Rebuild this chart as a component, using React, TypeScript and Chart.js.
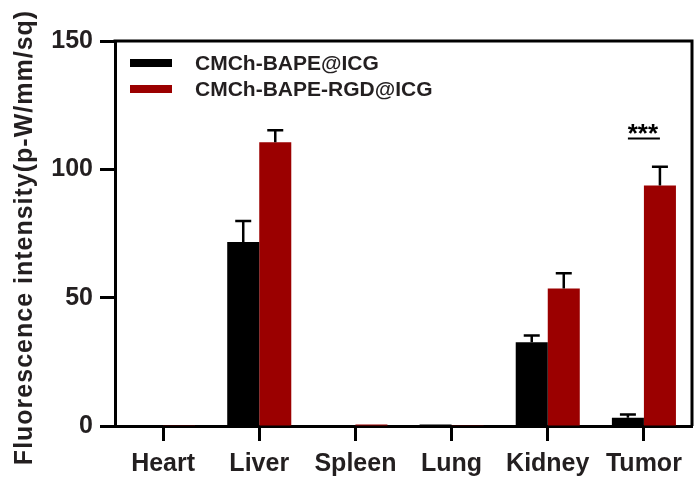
import React, { useEffect, useRef } from "react";
import { Chart, registerables } from "chart.js";

Chart.register(...registerables);

const categories = ["Heart", "Liver", "Spleen", "Lung", "Kidney", "Tumor"];
const seriesNames = ["CMCh-BAPE@ICG", "CMCh-BAPE-RGD@ICG"];
const bapeValues = [0.1, 71.7, 0.3, 0.6, 32.6, 3.2];
const bapeErrors = [0, 8.2, 0, 0, 2.7, 1.3];
const rgdValues = [0.1, 110.6, 0.6, 0.3, 53.6, 93.7];
const rgdErrors = [0, 4.6, 0, 0, 5.9, 7.3];
const yTicks = [0, 50, 100, 150];
const yTitle = "Fluorescence intensity(p-W/mm/sq)";
const significance = { category: "Tumor", value: 112, label: "***" };

const TEXT = "#231f20";
const RED = "#9b0000";
const FONT = "'Liberation Sans', Arial, sans-serif";

const extrasPlugin = {
  id: "extras",
  afterDatasetsDraw(chart: any) {
    const ctx = chart.ctx;
    const { left, right, top, bottom } = chart.chartArea;
    const y = chart.scales.y;
    const x = chart.scales.x;
    ctx.save();
    // error bars
    const errs = [bapeErrors, rgdErrors];
    const vals = [bapeValues, rgdValues];
    chart.data.datasets.forEach((ds: any, di: number) => {
      const meta = chart.getDatasetMeta(di);
      meta.data.forEach((bar: any, i: number) => {
        const e = errs[di][i];
        if (!e) return;
        const yTop = y.getPixelForValue(vals[di][i] + e);
        ctx.strokeStyle = "#000";
        ctx.lineWidth = 2.5;
        ctx.beginPath();
        ctx.moveTo(bar.x, bar.y);
        ctx.lineTo(bar.x, yTop);
        ctx.moveTo(bar.x - 8, yTop);
        ctx.lineTo(bar.x + 8, yTop);
        ctx.stroke();
      });
    });
    // frame top & right
    ctx.strokeStyle = "#000";
    ctx.lineWidth = 3;
    ctx.beginPath();
    ctx.moveTo(left - 1.5, top);
    ctx.lineTo(right, top);
    ctx.lineTo(right, bottom);
    ctx.stroke();
    // significance
    const cx = x.getPixelForValue(categories.indexOf(significance.category));
    const sy = y.getPixelForValue(significance.value);
    ctx.lineWidth = 2;
    ctx.beginPath();
    ctx.moveTo(cx - 16, sy);
    ctx.lineTo(cx + 16, sy);
    ctx.stroke();
    ctx.fillStyle = "#000";
    ctx.font = `bold 26px ${FONT}`;
    ctx.textAlign = "center";
    ctx.textBaseline = "alphabetic";
    ctx.fillText(significance.label, cx - 1, sy + 3);
    // legend
    const colors = ["#000", RED];
    ctx.font = `bold 21px ${FONT}`;
    ctx.textAlign = "left";
    ctx.textBaseline = "middle";
    seriesNames.forEach((name, i) => {
      const ly = top + 22 + i * 26;
      ctx.fillStyle = colors[i];
      ctx.fillRect(left + 15, ly - 4, 42, 8);
      ctx.fillStyle = TEXT;
      ctx.fillText(name, left + 80, ly + 1);
    });
    // y axis title
    ctx.translate(25, (top + bottom) / 2 + 4);
    ctx.rotate(-Math.PI / 2);
    ctx.font = `bold 25px ${FONT}`;
    (ctx as any).letterSpacing = "1px";
    ctx.textAlign = "center";
    ctx.textBaseline = "middle";
    ctx.fillStyle = TEXT;
    ctx.fillText(yTitle, 0, 0);
    ctx.restore();
  },
};

export default function App() {
  const ref = useRef<HTMLCanvasElement>(null);
  useEffect(() => {
    if (!ref.current) return;
    const chart = new Chart(ref.current, {
      type: "bar",
      data: {
        labels: categories,
        datasets: [
          {
            label: seriesNames[0],
            data: bapeValues,
            backgroundColor: "#000",
            categoryPercentage: 0.666,
            barPercentage: 1,
          },
          {
            label: seriesNames[1],
            data: rgdValues,
            backgroundColor: RED,
            categoryPercentage: 0.666,
            barPercentage: 1,
          },
        ],
      },
      options: {
        animation: false,
        responsive: false,
        layout: { padding: { top: 41, right: 2, left: 0, bottom: 0 } },
        plugins: { legend: { display: false }, tooltip: { enabled: false } },
        scales: {
          x: {
            grid: {
              drawOnChartArea: false,
              offset: false,
              tickLength: 15,
              tickWidth: 3,
              tickColor: "#000",
            },
            border: { display: true, width: 3, color: "#000" },
            ticks: {
              padding: 8,
              color: TEXT,
              font: { family: FONT, size: 25, weight: "bold" },
              maxRotation: 0,
              autoSkip: false,
            },
            afterFit: (s: any) => {
              s.height = 57;
            },
          },
          y: {
            min: 0,
            max: 150,
            afterBuildTicks: (s: any) => {
              s.ticks = yTicks.map((v) => ({ value: v }));
            },
            grid: {
              drawOnChartArea: false,
              tickLength: 15,
              tickWidth: 3,
              tickColor: "#000",
            },
            border: { display: true, width: 3, color: "#000" },
            ticks: {
              padding: 7,
              color: TEXT,
              font: { family: FONT, size: 25, weight: "bold" },
            },
            title: { display: false },
            afterFit: (s: any) => {
              s.width = 115;
            },
          },
        },
      },
      plugins: [extrasPlugin],
    });
    return () => chart.destroy();
  }, []);
  return (
    <div style={{ position: "absolute", left: 0, top: 0, width: 694, height: 483, background: "#fff" }}>
      <canvas ref={ref} width={694} height={483} />
    </div>
  );
}
